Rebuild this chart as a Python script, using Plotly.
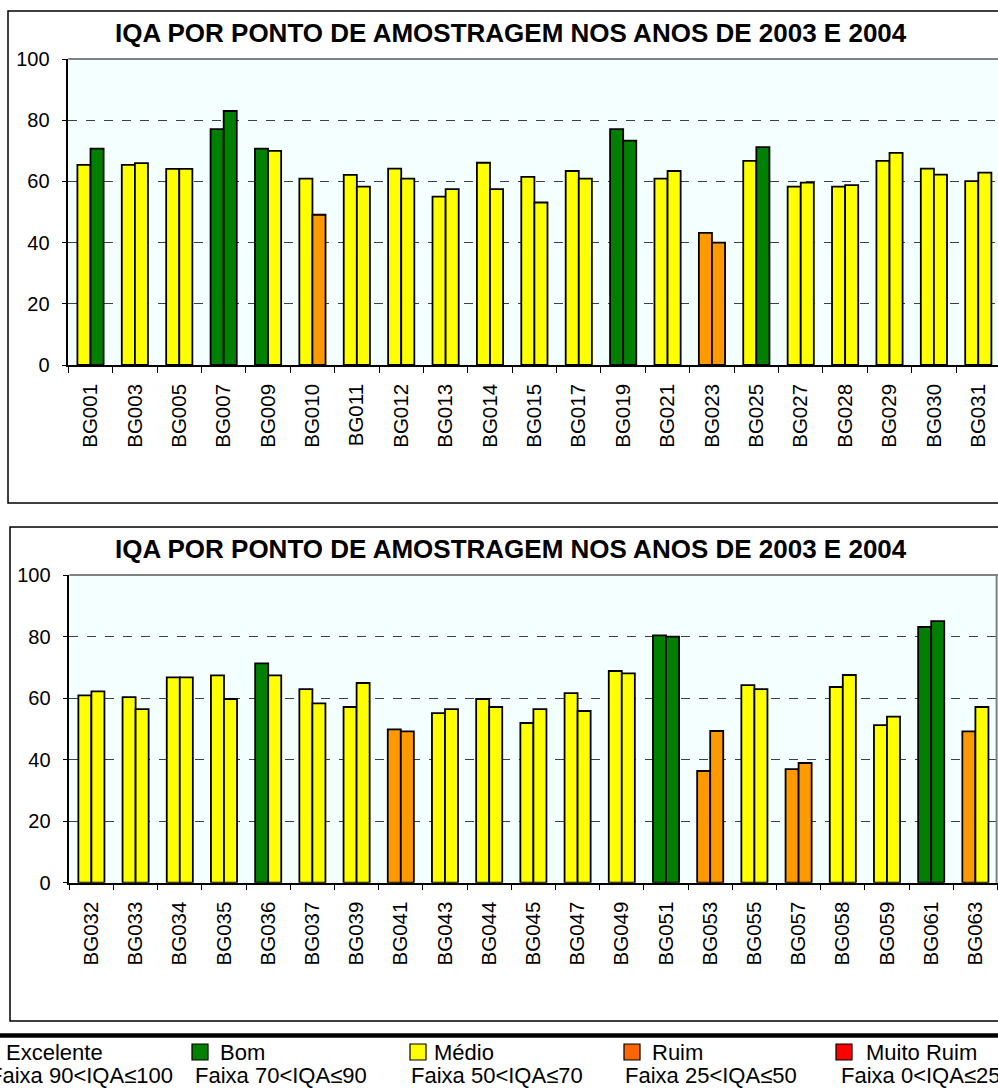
import plotly.graph_objects as go

# ---------------- data ----------------
pontos_1 = ["BG001", "BG003", "BG005", "BG007", "BG009", "BG010", "BG011", "BG012", "BG013", "BG014",
            "BG015", "BG017", "BG019", "BG021", "BG023", "BG025", "BG027", "BG028", "BG029", "BG030", "BG031"]
iqa2003_1 = [65.4, 65.4, 64.1, 77.1, 70.7, 60.9, 62.1, 64.2, 55.0, 66.1,
             61.5, 63.4, 77.1, 60.9, 43.2, 66.7, 58.3, 58.3, 66.7, 64.2, 60.1]
iqa2004_1 = [70.7, 66.0, 64.1, 83.0, 70.0, 49.1, 58.3, 60.9, 57.5, 57.5,
             53.1, 60.9, 73.3, 63.4, 40.0, 71.2, 59.6, 58.8, 69.3, 62.2, 62.9]

pontos_2 = ["BG032", "BG033", "BG034", "BG035", "BG036", "BG037", "BG039", "BG041", "BG043", "BG044",
            "BG045", "BG047", "BG049", "BG051", "BG053", "BG055", "BG057", "BG058", "BG059", "BG061", "BG063"]
iqa2003_2 = [60.9, 60.3, 66.7, 67.4, 71.3, 62.9, 57.1, 49.8, 55.1, 59.7,
             51.9, 61.6, 68.8, 80.4, 36.3, 64.2, 36.9, 63.6, 51.2, 83.1, 49.2]
iqa2004_2 = [62.2, 56.4, 66.7, 59.7, 67.4, 58.3, 64.9, 49.2, 56.4, 57.1,
             56.4, 55.8, 68.0, 80.0, 49.3, 62.9, 38.9, 67.5, 54.0, 85.0, 57.1]

classes = ["Excelente", "Bom", "Médio", "Ruim", "Muito Ruim"]
faixas = ["Faixa 90<IQA≤100", "Faixa 70<IQA≤90", "Faixa 50<IQA≤70", "Faixa 25<IQA≤50", "Faixa 0<IQA≤25"]
titulo = "IQA POR PONTO DE AMOSTRAGEM NOS ANOS DE 2003 E 2004"

# ---------------- styles ----------------
W, H = 998, 1091
FONT = "Arial, 'Liberation Sans', sans-serif"
C_GREEN, C_YELLOW, C_ORANGE, C_RED, C_BLUE = "#008000", "#FFFF00", "#FF9900", "#FF0000", "#0000FF"
legend_colors = [C_BLUE, C_GREEN, C_YELLOW, "#FF6600", C_RED]


def cor(v):
    if v > 90:
        return C_BLUE
    if v > 70:
        return C_GREEN
    if v > 50:
        return C_YELLOW
    if v > 25:
        return C_ORANGE
    return C_RED


def px_x(x):
    return x / W


def px_y(y):
    return 1 - y / H


fig = go.Figure()

for (cats, a, b, xa, ya) in [(pontos_1, iqa2003_1, iqa2004_1, "x", "y"),
                             (pontos_2, iqa2003_2, iqa2004_2, "x2", "y2")]:
    for name, vals in [("2003", a), ("2004", b)]:
        fig.add_trace(go.Bar(
            x=cats, y=vals, name=name, xaxis=xa, yaxis=ya,
            marker=dict(color=[cor(v) for v in vals], line=dict(color="black", width=1.8)),
            showlegend=False, hoverinfo="x+y",
        ))

# plot-area geometry (pixels)
top1, bot1, left1, cw1 = 59, 365, 68.3, 44.39
top2, bot2, left2, cw2 = 575, 882.7, 69.3, 44.2

axis_common = dict(
    showline=True, linecolor="black", linewidth=1.5,
    ticks="outside", tickcolor="black", tickwidth=1.3, automargin=False,
)

xfont = dict(family=FONT, size=20.5, color="black")
yfont = dict(family=FONT, size=20, color="black")

fig.update_layout(
    width=W, height=H,
    margin=dict(l=0, r=0, t=0, b=0, pad=0),
    paper_bgcolor="white",
    plot_bgcolor="#F4FFFF",
    barmode="group", bargap=0.41, bargroupgap=0.0,
    xaxis=dict(domain=[px_x(left1), 1], range=[-0.5, -0.5 + (W - left1) / cw1],
               anchor="y", type="category", tickson="boundaries", ticklen=6,
               tickangle=-90, showgrid=False, ticklabelstandoff=9, tickfont=xfont, **axis_common),
    yaxis=dict(domain=[px_y(bot1), px_y(top1)], range=[0, 100], dtick=20, anchor="x",
               ticklen=5, showgrid=True, gridcolor="#404040", griddash="dash", gridwidth=1,
               zeroline=False, ticklabelstandoff=8, tickfont=yfont, **axis_common),
    xaxis2=dict(domain=[px_x(left2), 1], range=[-0.5, -0.5 + (W - left2) / cw2],
                anchor="y2", type="category", tickson="boundaries", ticklen=6,
                tickangle=-90, showgrid=False, ticklabelstandoff=9, tickfont=xfont, **axis_common),
    yaxis2=dict(domain=[px_y(bot2), px_y(top2)], range=[0, 100], dtick=20, anchor="x2",
                ticklen=5, showgrid=True, gridcolor="#404040", griddash="dash", gridwidth=1,
                zeroline=False, ticklabelstandoff=8, tickfont=yfont, **axis_common),
)

shapes = []
# chart frames
shapes.append(dict(type="rect", xref="paper", yref="paper", x0=px_x(8), x1=px_x(1010),
                   y0=px_y(503), y1=px_y(11), line=dict(color="black", width=1.5), layer="below"))
shapes.append(dict(type="rect", xref="paper", yref="paper", x0=px_x(10), x1=px_x(1010),
                   y0=px_y(1021), y1=px_y(527), line=dict(color="black", width=1.5), layer="below"))
# thick separator
shapes.append(dict(type="line", xref="paper", yref="paper", x0=0, x1=1,
                   y0=px_y(1035.5), y1=px_y(1035.5), line=dict(color="black", width=4.5)))
# plot area top border (gray)
for xr, yr in [("x domain", "y domain"), ("x2 domain", "y2 domain")]:
    shapes.append(dict(type="line", xref=xr, yref=yr, x0=0, x1=1, y0=1, y1=1,
                       line=dict(color="#808080", width=2)))
shapes.append(dict(type="line", xref="x2 domain", yref="y2 domain", x0=0.9985, x1=0.9985, y0=0, y1=1,
                   line=dict(color="#808080", width=2)))

annotations = []
# titles
for yc in [33, 549]:
    annotations.append(dict(text="<b>" + titulo + "</b>", xref="paper", yref="paper",
                            x=px_x(511), y=px_y(yc), xanchor="center", yanchor="middle",
                            showarrow=False, font=dict(family=FONT, size=26, color="black")))

# legend
marker_x = [-22, 192, 410, 624, 836]
text_x = [4, 218, 432, 650, 864]
faixa_x = [-13, 193, 409, 623, 839]
for i in range(5):
    mx = marker_x[i]
    shapes.append(dict(type="rect", xref="paper", yref="paper",
                       x0=px_x(mx), x1=px_x(mx + 16), y0=px_y(1060), y1=px_y(1044),
                       fillcolor=legend_colors[i], line=dict(color="black", width=1.2)))
    annotations.append(dict(text=classes[i], xref="paper", yref="paper",
                            x=px_x(text_x[i]), y=px_y(1052), xanchor="left", yanchor="middle",
                            showarrow=False, font=dict(family=FONT, size=22, color="black")))
    annotations.append(dict(text=faixas[i], xref="paper", yref="paper",
                            x=px_x(faixa_x[i]), y=px_y(1075), xanchor="left", yanchor="middle",
                            showarrow=False, font=dict(family=FONT, size=22, color="black")))

fig.update_layout(shapes=shapes, annotations=annotations)

fig.write_html("out.html", config={"displayModeBar": False},
               post_script="document.body.style.margin='0';document.body.style.overflow='hidden';")
